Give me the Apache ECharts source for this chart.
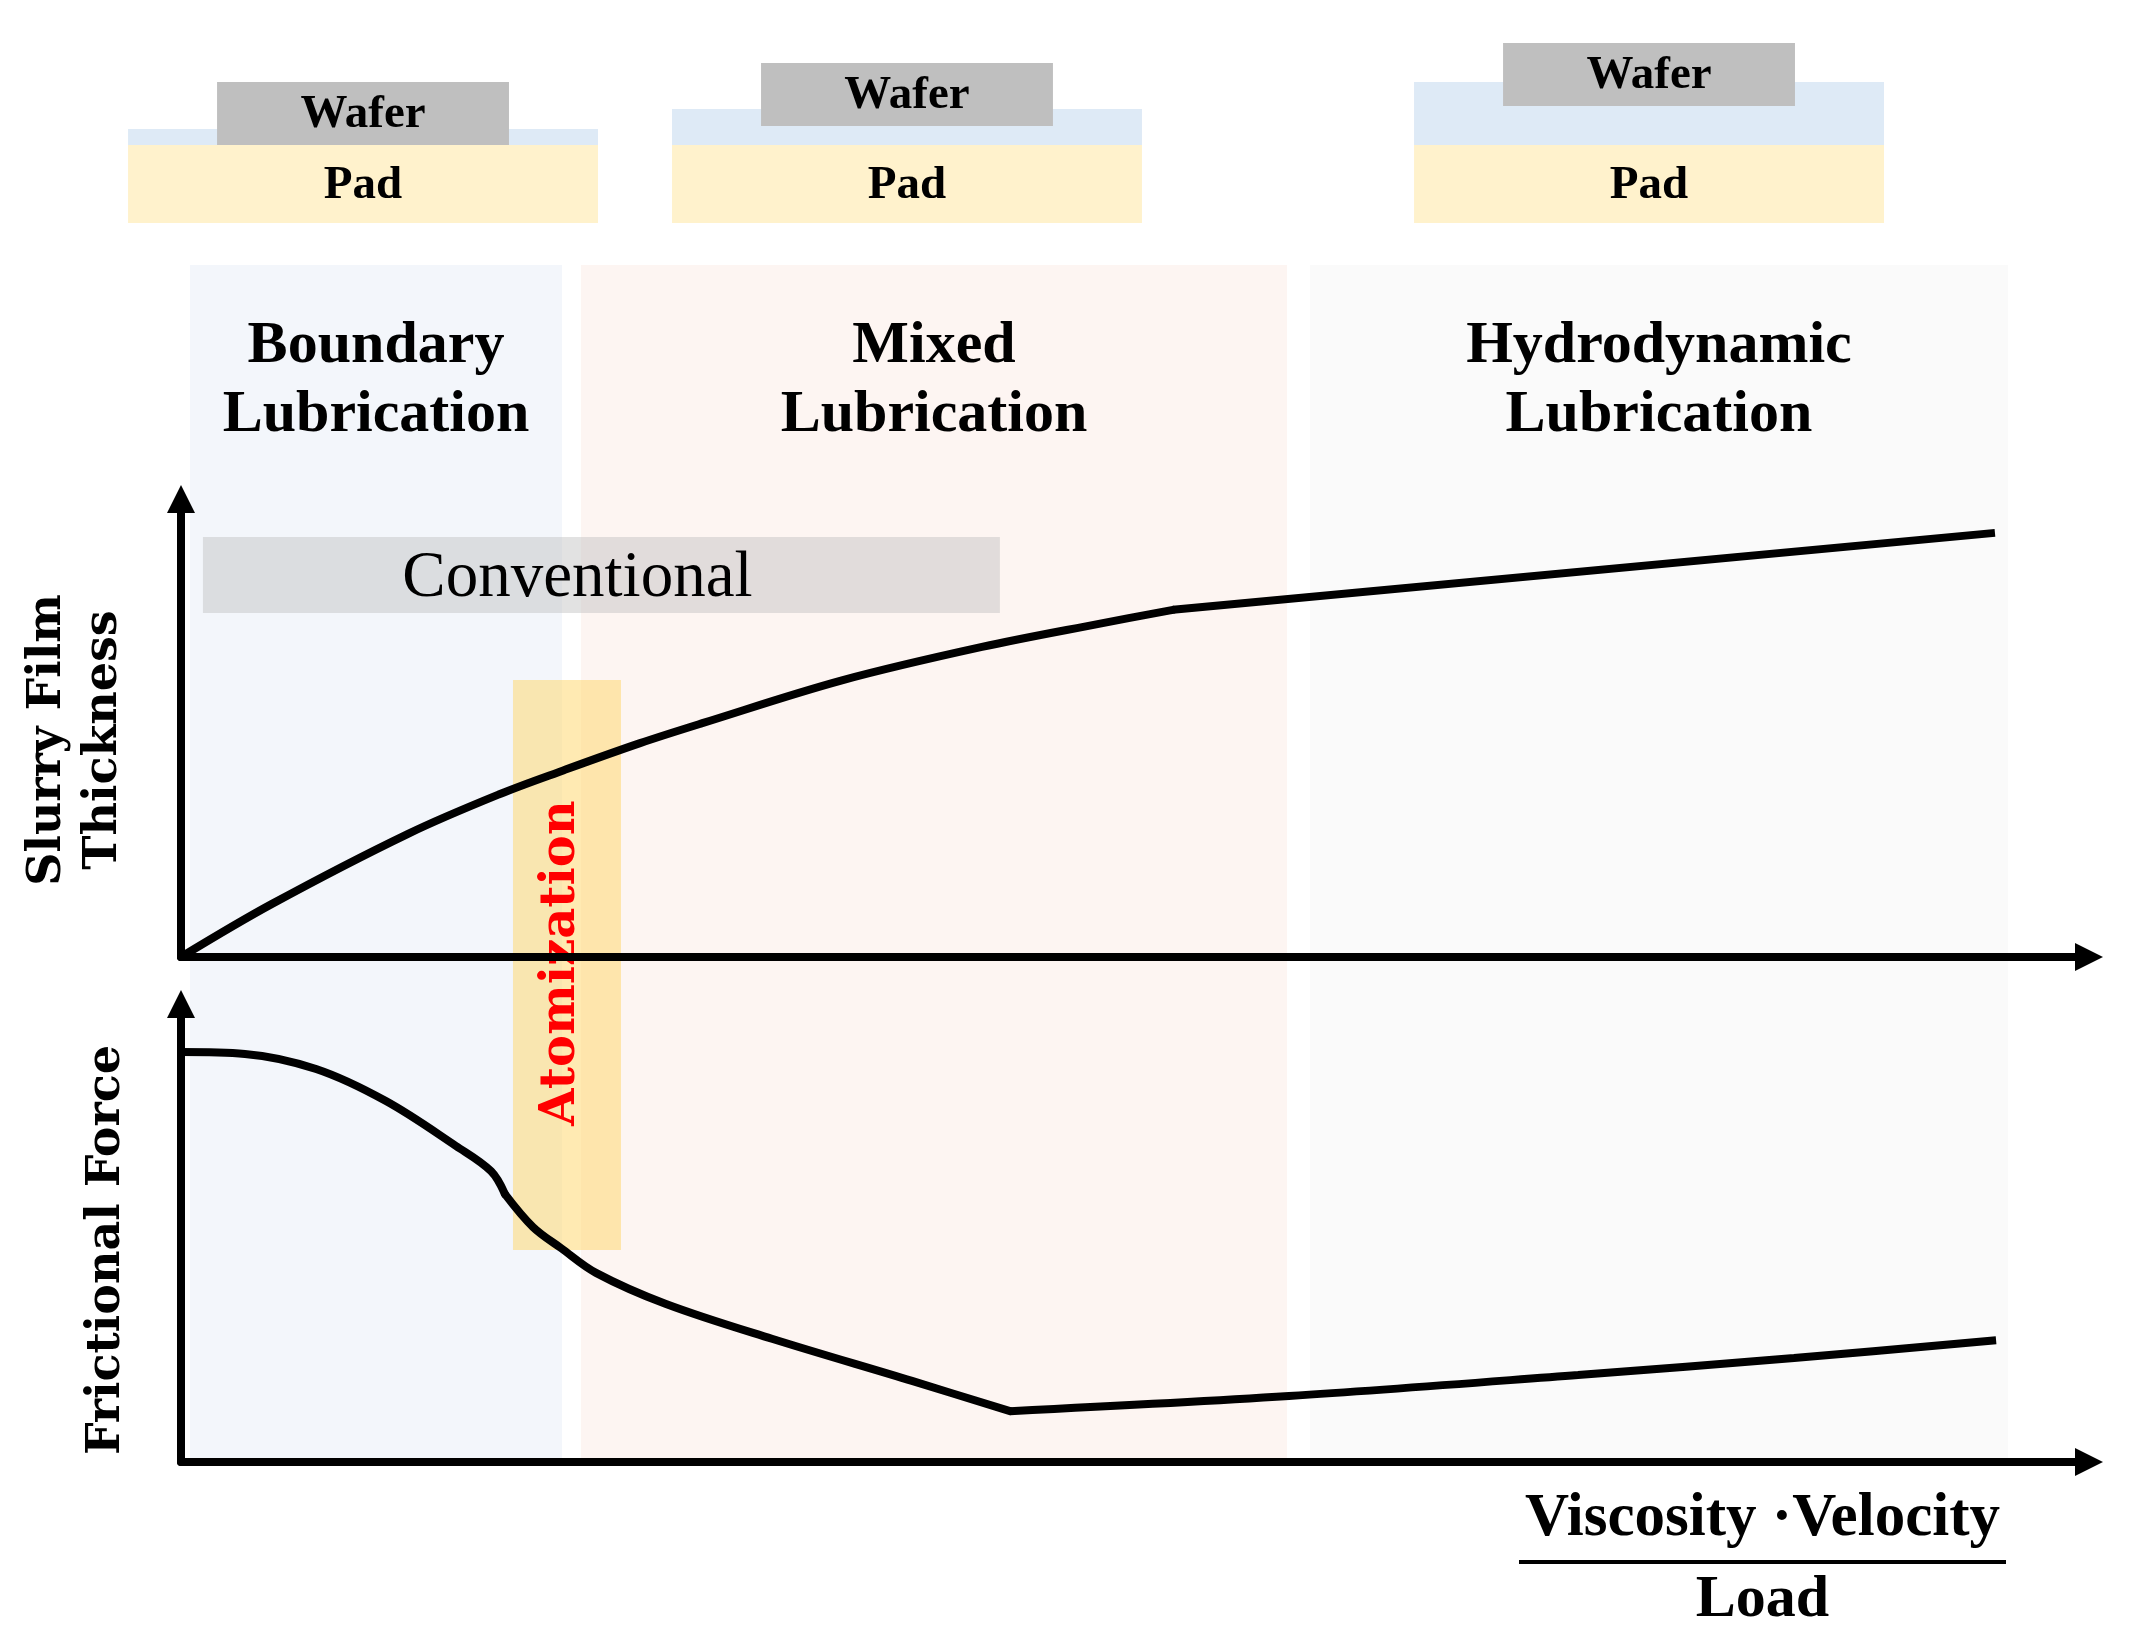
<!DOCTYPE html>
<html><head><meta charset="utf-8">
<script src="https://cdn.jsdelivr.net/npm/echarts@6/dist/echarts.min.js"></script>
<style>html,body{margin:0;padding:0;background:#fff}#chart{width:2132px;height:1641px}</style>
</head><body><div id="chart"></div>
<script>
// ---- data (x: Viscosity·Velocity/Load, arbitrary units 0-100) ----
const regimeNames = ['Boundary\nLubrication', 'Mixed\nLubrication', 'Hydrodynamic\nLubrication'];
const regimeRanges = [[0.47, 19.97], [20.96, 57.97], [59.17, 95.75]];
const diagramCenters = [9.54, 38.05, 76.94];
const filmThickness = [16, 36, 63];
const waferLift = [0, 19, 39];
const conventionalRange = [[1.15, 75.1], [42.92, 91.7]];
const atomizationRange = [[17.40, 17.57], [23.06, 65.27]];
const thicknessCurve = [[0, 0], [4.77, 11.6], [11.90, 26.9], [16.72, 35.6], [20.07, 40.8], [24.06, 46.7], [27.28, 51.0], [34.64, 60.4], [41.98, 67.7], [48.17, 72.8], [51.99, 75.8]];
const thicknessLine = [[51.99, 75.8], [95.07, 92.6]];
const frictionFall = [[0, 89.5], [3.35, 89.1], [7.08, 85.8], [10.74, 78.8], [14.41, 69.0], [16.25, 63.5], [16.98, 58.5]];
const frictionDrop = [[16.98, 58.5], [18.45, 51.3], [19.92, 46.7], [21.75, 41.3], [25.42, 34.5], [30.97, 26.9], [38.31, 17.7], [43.45, 11.1]];
const frictionRise = [[43.45, 11.1], [58.07, 14.4], [73.22, 19.0], [84.54, 22.7], [95.13, 26.6]];

// ---- styles ----
const SERIF = 'Liberation Serif';
const WIDE = 'DejaVu Serif';
const regimeColors = ['#F3F6FB', '#FDF5F2', '#FAFAFA'];

const hiddenX = { type: 'value', min: 0, max: 100, show: false };
const visAxis = {
  type: 'value', min: 0, max: 100, z: 10,
  axisLine: { show: true, onZero: false, lineStyle: { color: '#000', width: 8 }, symbol: ['none', 'triangle'], symbolSize: [28, 28] },
  axisTick: { show: false }, axisLabel: { show: false }, splitLine: { show: false }
};
const gridCommon = { left: 181, width: 1908, containLabel: false, outerBoundsMode: 'none' };
const curve = { type: 'line', symbol: 'none', z: 6, smooth: 0.35 };
const ink = (cap) => ({ color: '#000', width: 8, cap: cap });

const chart = echarts.init(document.getElementById('chart'));
chart.setOption({
  animation: false,
  backgroundColor: '#fff',
  grid: [
    Object.assign({ top: 265, height: 1195 }, gridCommon),   // 0 background regimes
    Object.assign({ top: 23, height: 200 }, gridCommon),     // 1 pad/wafer diagrams
    Object.assign({ top: 499, height: 458 }, gridCommon),    // 2 film thickness
    Object.assign({ top: 1004, height: 458 }, gridCommon)    // 3 frictional force
  ],
  xAxis: [
    Object.assign({ gridIndex: 0 }, hiddenX),
    Object.assign({ gridIndex: 1 }, hiddenX),
    Object.assign({ gridIndex: 2 }, visAxis),
    Object.assign({ gridIndex: 3 }, visAxis, {
      name: '{n|Viscosity ·Velocity}\n{bar| }\n{d|Load}',
      nameLocation: 'end', nameGap: -83, nameMoveOverlap: false,
      nameTextStyle: {
        align: 'right', verticalAlign: 'top', padding: [22, 0, 0, 0],
        rich: {
          n: { fontFamily: SERIF, fontWeight: 'bold', fontSize: 61, lineHeight: 70, width: 487, align: 'center', color: '#000' },
          bar: { width: 487, height: 4, lineHeight: 16, fontSize: 4, backgroundColor: '#000' },
          d: { fontFamily: SERIF, fontWeight: 'bold', fontSize: 60, lineHeight: 60, width: 487, align: 'center', color: '#000' }
        }
      }
    })
  ],
  yAxis: [
    { gridIndex: 0, type: 'value', min: 0, max: 100, show: false },
    { gridIndex: 1, type: 'value', min: 0, max: 200, show: false },
    Object.assign({ gridIndex: 2 }, visAxis, {
      name: 'Slurry Film\nThickness', nameLocation: 'middle', nameRotate: 90, nameGap: 49, nameMoveOverlap: false,
      nameTextStyle: { fontFamily: WIDE, fontWeight: 'bold', fontSize: 46, lineHeight: 56, color: '#000', padding: [0, 24, 0, 0] }
    }),
    Object.assign({ gridIndex: 3 }, visAxis, {
      name: 'Frictional Force', nameLocation: 'middle', nameRotate: 90, nameGap: 46, nameMoveOverlap: false,
      nameTextStyle: { fontFamily: WIDE, fontWeight: 'bold', fontSize: 46, lineHeight: 56, color: '#000', padding: [0, 34, 0, 0] }
    })
  ],
  series: [
    {
      type: 'line', xAxisIndex: 0, yAxisIndex: 0, data: [], z: 1, silent: true,
      markArea: {
        silent: true,
        label: { show: true, position: 'insideTop', distance: 47, fontFamily: SERIF, fontWeight: 'bold', fontSize: 60, lineHeight: 69, color: '#000' },
        data: regimeNames.map((nm, i) => [
          { name: nm, xAxis: regimeRanges[i][0], itemStyle: { color: regimeColors[i] } },
          { xAxis: regimeRanges[i][1] }
        ])
      }
    },
    {
      type: 'custom', xAxisIndex: 1, yAxisIndex: 1, z: 2, silent: true,
      data: diagramCenters.map((c, i) => [c, filmThickness[i], waferLift[i]]),
      renderItem(params, api) {
        const cx = api.value(0), film = api.value(1), lift = api.value(2);
        const padW = 24.63, waferW = 15.30, padH = 78, waferH = 63;
        const rect = (x0, y0, x1, y1) => {
          const a = api.coord([x0, y1]), b = api.coord([x1, y0]);
          return { x: a[0], y: a[1], width: b[0] - a[0], height: b[1] - a[1] };
        };
        const pad = rect(cx - padW / 2, 0, cx + padW / 2, padH);
        const filmR = rect(cx - padW / 2, padH, cx + padW / 2, padH + film);
        const wafer = rect(cx - waferW / 2, padH + lift, cx + waferW / 2, padH + lift + waferH);
        const font = { fontFamily: SERIF, fontWeight: 'bold', fontSize: 47, fill: '#000', align: 'center', verticalAlign: 'middle' };
        return {
          type: 'group', children: [
            { type: 'rect', shape: filmR, style: { fill: '#DEEAF6' } },
            { type: 'rect', shape: pad, style: { fill: '#FFF2CC' } },
            { type: 'rect', shape: wafer, style: { fill: '#BFBFBF' } },
            { type: 'text', x: wafer.x + wafer.width / 2, y: wafer.y + wafer.height / 2 + 1, style: Object.assign({ text: 'Wafer' }, font) },
            { type: 'text', x: pad.x + pad.width / 2, y: pad.y + pad.height / 2 + 2, style: Object.assign({ text: 'Pad' }, font) }
          ]
        };
      }
    },
    {
      type: 'line', xAxisIndex: 2, yAxisIndex: 2, data: [], z: 3, silent: true,
      markArea: {
        silent: true,
        itemStyle: { color: 'rgba(191,191,191,0.45)' },
        label: { show: true, position: 'inside', offset: [-24, 4], fontFamily: SERIF, fontSize: 65, color: '#000' },
        data: [[
          { name: 'Conventional', xAxis: conventionalRange[0][0], yAxis: conventionalRange[0][1] },
          { xAxis: conventionalRange[1][0], yAxis: conventionalRange[1][1] }
        ]]
      }
    },
    {
      type: 'line', xAxisIndex: 0, yAxisIndex: 0, data: [], z: 4, silent: true,
      markArea: {
        silent: true,
        itemStyle: { color: 'rgba(255,214,102,0.5)' },
        label: { show: true, position: 'inside', rotate: 90, offset: [2, -5], fontFamily: WIDE, fontWeight: 'bold', fontSize: 48, color: '#FF0000' },
        data: [[
          { name: 'Atomization', xAxis: atomizationRange[0][0], yAxis: atomizationRange[0][1] },
          { xAxis: atomizationRange[1][0], yAxis: atomizationRange[1][1] }
        ]]
      }
    },
    Object.assign({ xAxisIndex: 2, yAxisIndex: 2, data: thicknessCurve, lineStyle: ink('round') }, curve),
    Object.assign({ xAxisIndex: 2, yAxisIndex: 2, data: thicknessLine, lineStyle: ink('butt') }, curve, { smooth: false }),
    Object.assign({ xAxisIndex: 3, yAxisIndex: 3, data: frictionFall, lineStyle: ink('round') }, curve),
    Object.assign({ xAxisIndex: 3, yAxisIndex: 3, data: frictionDrop, lineStyle: ink('round') }, curve),
    Object.assign({ xAxisIndex: 3, yAxisIndex: 3, data: frictionRise, lineStyle: ink('butt') }, curve)
  ]
});
</script></body></html>
